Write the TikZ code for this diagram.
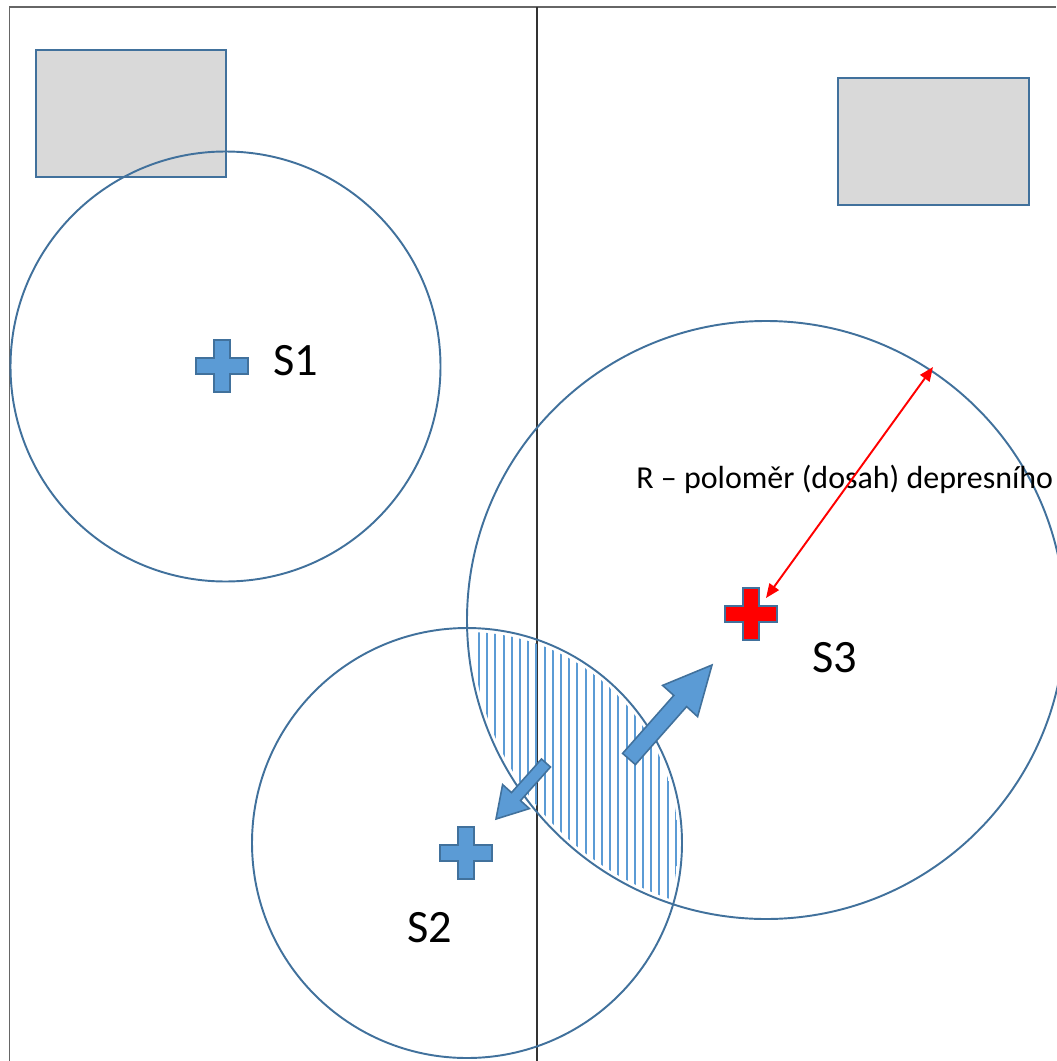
\documentclass[tikz,border=0pt]{standalone}
\usepackage{fontspec}
\setmainfont{Carlito}
\usetikzlibrary{arrows.meta}
\definecolor{wellblue}{HTML}{5B9BD5}
\definecolor{edgeblue}{HTML}{41719C}
\definecolor{boxgray}{HTML}{D9D9D9}

\tikzset{
  plusmark/.pic={
    \filldraw[draw=edgeblue, fill=#1, line width=0.9pt]
      (-8,-26) -- (8,-26) -- (8,-8) -- (26,-8) -- (26,8) -- (8,8) -- (8,26)
      -- (-8,26) -- (-8,8) -- (-26,8) -- (-26,-8) -- (-8,-8) -- cycle;
  }
}

\begin{document}
\begin{tikzpicture}[x=0.02cm, y=-0.02cm,
  frame/.style={black!60, line width=0.8pt},
  circ/.style={draw=edgeblue, line width=1.1pt},
  house/.style={draw=edgeblue, fill=boxgray, line width=1.3pt},
  blk/.style={draw=edgeblue, fill=wellblue, line width=0.9pt, line join=miter},
  hatch/.style={wellblue, line width=1.1pt},
  lbl/.style={font=\fontsize{26.4}{30}\selectfont, inner sep=0pt, anchor=base west},
  redarr/.style={red, line width=1.1pt, {Triangle[length=8pt,width=6.5pt]}-{Triangle[length=8pt,width=6.5pt]}}]
\useasboundingbox (0,0) rectangle (1056,1061);

% Frame
\draw[frame] (9.5,1061) -- (9.5,7) -- (1056,7);
\draw[black!80, line width=0.7pt] (537,7) -- (537,1061);

% Buildings
\draw[house] (36,50) rectangle (226,177);
\draw[house] (838,78) rectangle (1029,205);

% Overlap of S2 and S3
\begin{scope}
  \clip (467,843) circle[radius=211];
  \clip (766,620) circle[radius=295];
  \foreach \x in {479,487.2,...,684}
    \draw[hatch] (\x,600) -- (\x,1000);
\end{scope}

% Depression cones
\draw[circ] (225.5,366.5) circle[radius=215];
\draw[circ] (467,843) circle[radius=215];
\draw[circ] (766,620) circle[radius=299];

% Wells
\pic (s1) at (222,366) {plusmark=wellblue};
\pic (s2) at (466,853) {plusmark=wellblue};
\pic (s3) at (751,614) {plusmark=red};

\node[lbl] (s1lbl) at (273,375) {S1};
\node[lbl] (s2lbl) at (407,942) {S2};
\node[lbl] (s3lbl) at (812,672) {S3};

% Interaction arrows
\draw[blk] (622.6,753.4) -- (673.8,695.4) -- (662.6,685.4) -- (712,665)
  -- (697.6,716.6) -- (686.6,706.6) -- (635.4,764.6) -- cycle;
\draw[blk] (550.5,767) -- (520.5,800.6) -- (529.4,808.6) -- (496,819)
  -- (502.6,784.6) -- (511.5,792.6) -- (541.5,759) -- cycle;

% Radius of influence
\coordinate (rin) at (766,598);
\coordinate (rout) at (933,367);
\node[font=\fontsize{18.2}{22}\selectfont, inner sep=0pt, anchor=base west] (rlbl) at (636,488) {R – poloměr (dosah) depresního};
\draw[redarr] (rin) -- (rout);
\end{tikzpicture}
\end{document}
